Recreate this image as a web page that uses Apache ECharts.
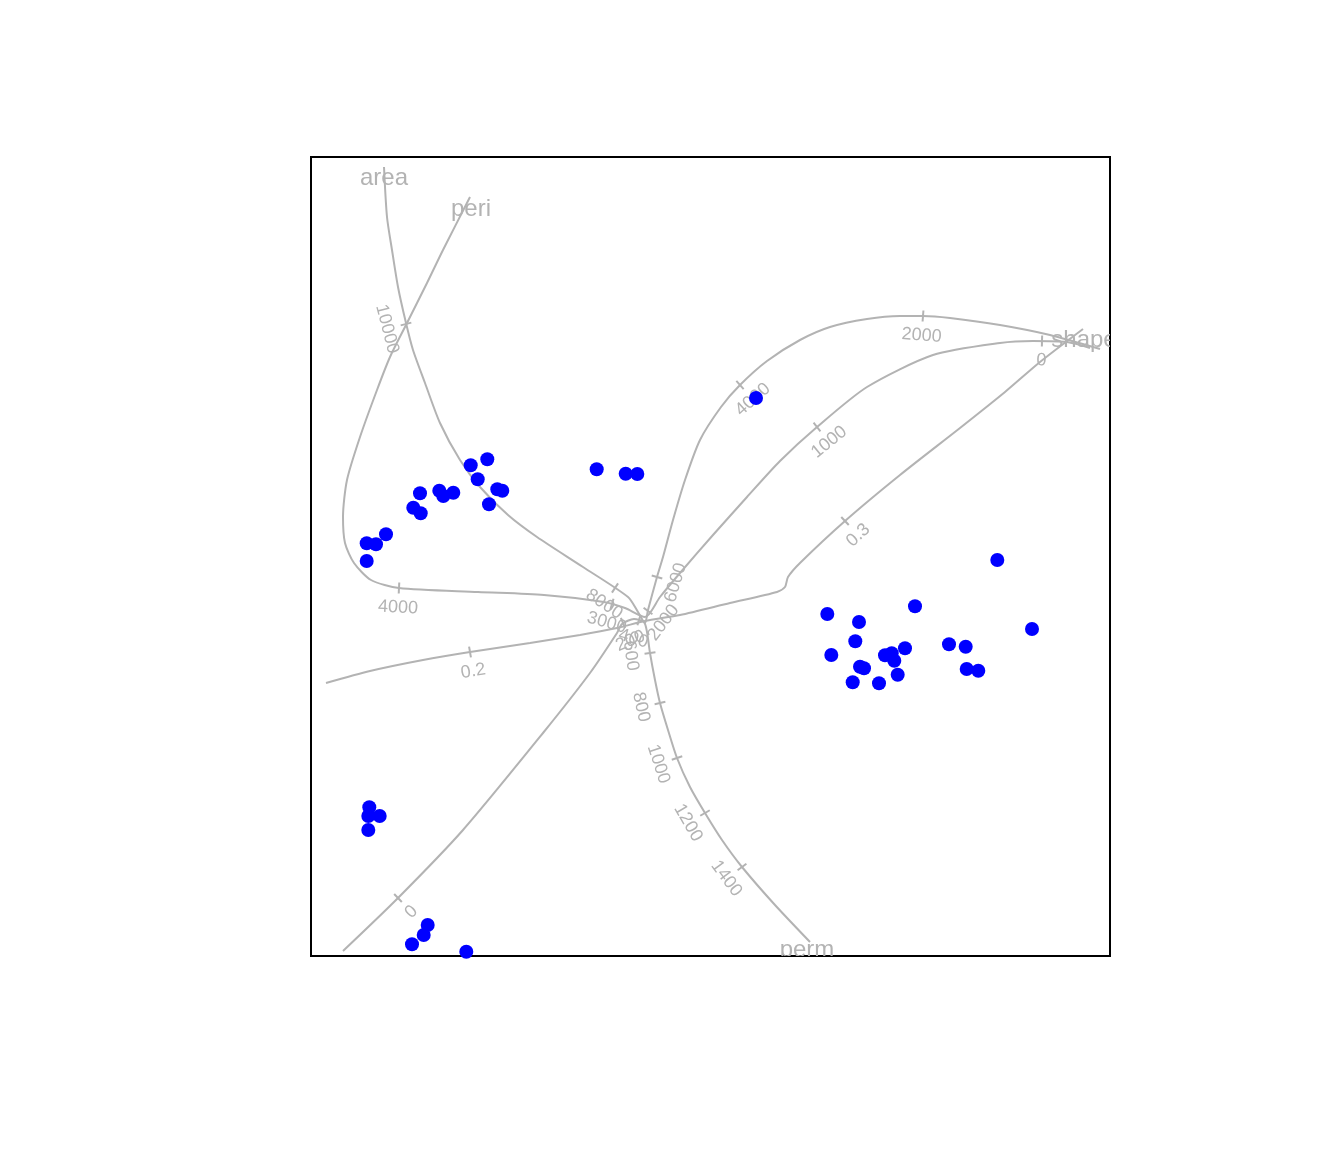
<!DOCTYPE html>
<html><head><meta charset="utf-8">
<script src="https://cdn.jsdelivr.net/npm/echarts@6/dist/echarts.min.js"></script>
<style>html,body{margin:0;padding:0;background:#fff}#c{width:1344px;height:1152px}</style>
</head><body><div id="c"></div>
<script>
// ---- sample points (biplot coordinates) ----
const samplePoints = [
  [1.597,4.907],[1.763,4.967],[1.667,4.767],[2.857,4.867],[3.147,4.823],[3.263,4.820],
  [1.090,4.627],[1.283,4.653],[1.323,4.600],[1.423,4.633],[1.863,4.667],[1.913,4.653],
  [1.780,4.517],[1.023,4.483],[1.097,4.427],[0.750,4.217],[0.557,4.127],[0.650,4.117],
  [0.557,3.950],[4.450,5.580],
  [6.863,3.960],[5.163,3.420],[5.480,3.340],[6.040,3.497],[7.210,3.270],[5.443,3.147],
  [5.203,3.010],[6.380,3.117],[6.547,3.093],[5.940,3.077],[5.740,3.007],[5.807,3.027],
  [5.833,2.953],[5.490,2.893],[5.530,2.877],[5.867,2.813],[5.417,2.737],[5.680,2.727],
  [6.557,2.870],[6.673,2.853],
  [0.583,1.487],[0.573,1.400],[0.687,1.400],[0.573,1.260],
  [1.167,0.310],[1.127,0.210],[1.010,0.117],[1.553,0.043]
];

// ---- variable trajectories ----
const areaCurve = [
  [7.89,6.07],[7.39,6.21],[6.89,6.31],[6.39,6.38],[6.12,6.40],[5.89,6.40],[5.56,6.37],
  [5.19,6.29],[4.89,6.16],[4.56,5.95],[4.29,5.71],[4.10,5.49],
  [3.89,5.16],[3.74,4.76],[3.62,4.36],[3.52,3.99],[3.46,3.79],[3.37,3.46],[3.34,3.33],
  [3.27,3.44],[3.17,3.59],[2.72,3.89],[2.26,4.19],[1.97,4.41],[1.69,4.69],[1.49,4.96],
  [1.29,5.33],[1.14,5.73],[1.02,6.06],[0.95,6.33],[0.87,6.69],[0.81,7.06],[0.76,7.39],
  [0.73,7.89]
];
const periCurve = [
  [7.79,6.08],[7.56,6.14],[7.22,6.15],[6.89,6.13],[6.22,6.01],[5.56,5.69],[5.06,5.29],
  [4.69,4.95],[4.36,4.59],[4.02,4.21],[3.69,3.83],[3.49,3.59],[3.34,3.39],[3.14,3.48],
  [2.93,3.54],[2.33,3.61],[1.67,3.64],[0.88,3.68],[0.60,3.76],[0.43,3.93],
  [0.34,4.13],[0.32,4.39],[0.36,4.76],[0.49,5.19],[0.66,5.66],[0.79,5.99],[0.96,6.33],
  [1.16,6.73],[1.32,7.06],[1.59,7.59]
];
const shapeCurve = [
  [0.15,2.73],[0.59,2.85],[1.12,2.96],[1.59,3.04],[2.19,3.13],[2.69,3.21],[3.06,3.28],
  [3.34,3.35],[3.69,3.41],[4.19,3.53],[4.66,3.64],[4.74,3.69],[4.77,3.79],[4.89,3.93],
  [5.34,4.35],[5.89,4.81],[6.49,5.28],[6.94,5.64],[7.29,5.94],[7.72,6.27]
];
const permCurve = [
  [0.32,0.05],[0.87,0.58],[1.52,1.26],[2.32,2.23],[2.79,2.83],[3.06,3.23],[3.11,3.32],
  [3.23,3.37],[3.33,3.34],[3.36,3.24],[3.39,3.03],[3.44,2.76],[3.49,2.53],[3.57,2.26],
  [3.66,1.98],[3.79,1.69],[3.94,1.43],[4.11,1.16],[4.31,0.89],[4.64,0.51],[4.99,0.14]
];

// ---- calibration ticks ----
const areaTickLabels = ['2000','4000','6000','8000','10000'];
const areaTickPos = [[6.12,6.40],[4.29,5.71],[3.46,3.79],[3.04,3.68],[0.95,6.32]];
const periTickLabels = ['0','1000','2000','3000','4000'];
const periTickPos = [[7.31,6.15],[5.06,5.29],[3.37,3.45],[3.01,3.52],[0.88,3.68]];
const shapeTickLabels = ['0.2','0.3'];
const shapeTickPos = [[1.59,3.04],[5.34,4.35]];
const permTickLabels = ['0','200','400','600','800','1000','1200','1400'];
const permTickPos = [[0.87,0.58],[3.12,3.33],[3.28,3.36],[3.39,3.03],[3.49,2.53],[3.66,1.98],[3.94,1.43],[4.31,0.89]];

// ---- variable names ----
const varNames = ['area','peri','shape','perm'];
const varNamePos = [[0.73,7.78],[1.60,7.47],[7.73,6.16],[4.96,0.055]];

const GRAY = '#b3b3b3';
const FONT = '"Liberation Sans", Arial, Helvetica, sans-serif';
const TICK_HALF = 5.5, LABEL_OFF = 19.5;

function tickRenderer(curve, labels) {
  return function (params, api) {
    const p = api.coord([api.value(0), api.value(1)]);
    const pts = curve.map(c => api.coord(c));
    let best = Infinity, tx = 1, ty = 0;
    for (let i = 0; i < pts.length - 1; i++) {
      const a = pts[i], b = pts[i + 1];
      const dx = b[0] - a[0], dy = b[1] - a[1];
      const L2 = dx * dx + dy * dy;
      if (!L2) continue;
      let t = ((p[0] - a[0]) * dx + (p[1] - a[1]) * dy) / L2;
      t = Math.max(0, Math.min(1, t));
      const qx = a[0] + t * dx - p[0], qy = a[1] + t * dy - p[1];
      const d = qx * qx + qy * qy;
      if (d < best) { best = d; const L = Math.sqrt(L2); tx = dx / L; ty = dy / L; }
    }
    if (tx < 0) { tx = -tx; ty = -ty; }
    const nx = -ty, ny = tx;
    return {
      type: 'group',
      children: [
        { type: 'line',
          shape: { x1: p[0] - nx * TICK_HALF, y1: p[1] - ny * TICK_HALF, x2: p[0] + nx * TICK_HALF, y2: p[1] + ny * TICK_HALF },
          style: { stroke: GRAY, lineWidth: 2 } },
        { type: 'text',
          x: p[0] + nx * LABEL_OFF, y: p[1] + ny * LABEL_OFF,
          rotation: -Math.atan2(ty, tx),
          style: { text: labels[params.dataIndex], fill: GRAY, fontSize: 18, fontFamily: FONT,
                   align: 'center', verticalAlign: 'middle' } }
      ]
    };
  };
}

const curves = [areaCurve, periCurve, shapeCurve, permCurve];
const tickPos = [areaTickPos, periTickPos, shapeTickPos, permTickPos];
const tickLabels = [areaTickLabels, periTickLabels, shapeTickLabels, permTickLabels];

const series = [];
curves.forEach(c => series.push({
  type: 'line', data: c, showSymbol: false, symbol: 'none', silent: true, clip: true, smooth: 0.25,
  lineStyle: { color: GRAY, width: 2 }, z: 2, animation: false
}));
tickPos.forEach((tp, i) => series.push({
  type: 'custom', coordinateSystem: 'cartesian2d', data: tp, clip: true, silent: true,
  encode: { x: 0, y: 1 }, renderItem: tickRenderer(curves[i], tickLabels[i]), z: 3, animation: false
}));
series.push({
  type: 'custom', coordinateSystem: 'cartesian2d', data: varNamePos, clip: true, silent: true,
  encode: { x: 0, y: 1 }, z: 3, animation: false,
  renderItem: function (params, api) {
    const p = api.coord([api.value(0), api.value(1)]);
    return { type: 'text', x: p[0], y: p[1],
      style: { text: varNames[params.dataIndex], fill: GRAY, fontSize: 24, fontFamily: FONT,
               align: 'center', verticalAlign: 'middle' } };
  }
});
series.push({
  type: 'scatter', data: samplePoints, symbol: 'circle', symbolSize: 14, z: 10,
  itemStyle: { color: '#0000ff', opacity: 1 }, animation: false, clip: true
});

const chart = echarts.init(document.getElementById('c'), null, { renderer: 'canvas' });
chart.setOption({
  backgroundColor: '#ffffff',
  animation: false,
  grid: { left: 311, top: 157, width: 799, height: 799, show: true, borderColor: '#000', borderWidth: 2, backgroundColor: 'transparent' },
  xAxis: { type: 'value', min: 0, max: 7.99, show: false },
  yAxis: { type: 'value', min: 0, max: 7.99, show: false },
  series: series
});
</script></body></html>
